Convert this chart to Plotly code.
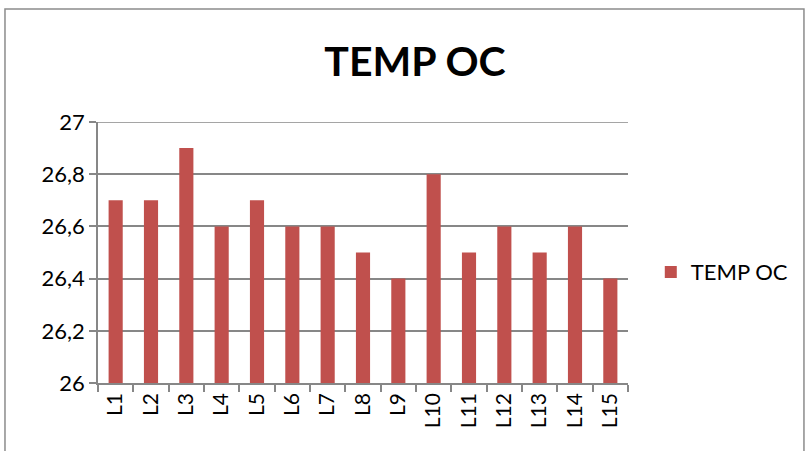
import plotly.graph_objects as go

categories = ["L1", "L2", "L3", "L4", "L5", "L6", "L7", "L8", "L9", "L10", "L11", "L12", "L13", "L14", "L15"]
temp_oc = [26.7, 26.7, 26.9, 26.6, 26.7, 26.6, 26.6, 26.5, 26.4, 26.8, 26.5, 26.6, 26.5, 26.6, 26.4]
y_ticks = [26.0, 26.2, 26.4, 26.6, 26.8, 27.0]

_RED = "#C0504D"
_GRID = "#878787"
_FONT = "Lato, Open Sans, sans-serif"

fig = go.Figure()
fig.add_trace(go.Bar(x=categories, y=temp_oc, name="TEMP OC", marker=dict(color=_RED, line=dict(width=0)), showlegend=True))

fig.update_layout(
    width=806,
    height=451,
    template="plotly_white",
    paper_bgcolor="white",
    plot_bgcolor="white",
    separators=",.",
    font=dict(family=_FONT, color="black", size=21),
    margin=dict(l=98, r=178, t=122, b=68, autoexpand=False),
    bargap=0.6,
    title=dict(text="<b>TEMP OC</b>", x=(415 - 98) / 530, xref="paper", xanchor="center", y=1 - 62 / 451, yanchor="middle", font=dict(size=41, family=_FONT, color="black")),
    legend=dict(x=1.043, y=0.425, xanchor="left", yanchor="middle", font=dict(size=22), itemwidth=30, bgcolor="rgba(0,0,0,0)"),
    showlegend=True,
)
fig.update_yaxes(
    range=[26, 27],
    tickvals=y_ticks,
    showgrid=True,
    gridcolor=_GRID,
    gridwidth=1.5,
    showline=True,
    linecolor=_GRID,
    linewidth=1.5,
    ticks="outside",
    ticklen=7,
    tickcolor=_GRID,
    tickwidth=1.5,
    zeroline=False,
    tickfont=dict(size=22),
)
fig.update_xaxes(
    showline=True,
    linecolor=_GRID,
    linewidth=1.5,
    ticks="outside",
    tickson="boundaries",
    ticklen=7,
    tickcolor=_GRID,
    tickwidth=1.5,
    tickangle=-90,
    showgrid=False,
    tickfont=dict(size=21),
)
# top gridline sits on the range edge, plotly skips it
fig.add_hline(y=y_ticks[-1], line_color=_GRID, line_width=1.5, layer="below")
# outer chart border (bottom edge falls outside the picture)
fig.add_shape(type="rect", xref="paper", yref="paper", x0=-0.1755, x1=1.332, y0=-0.4, y1=1.433, line=dict(color="#8c8c8c", width=1.5), fillcolor="rgba(0,0,0,0)", layer="below")

fig.write_html("out.html", config={"displayModeBar": False}, post_script="document.body.style.margin='0';")
